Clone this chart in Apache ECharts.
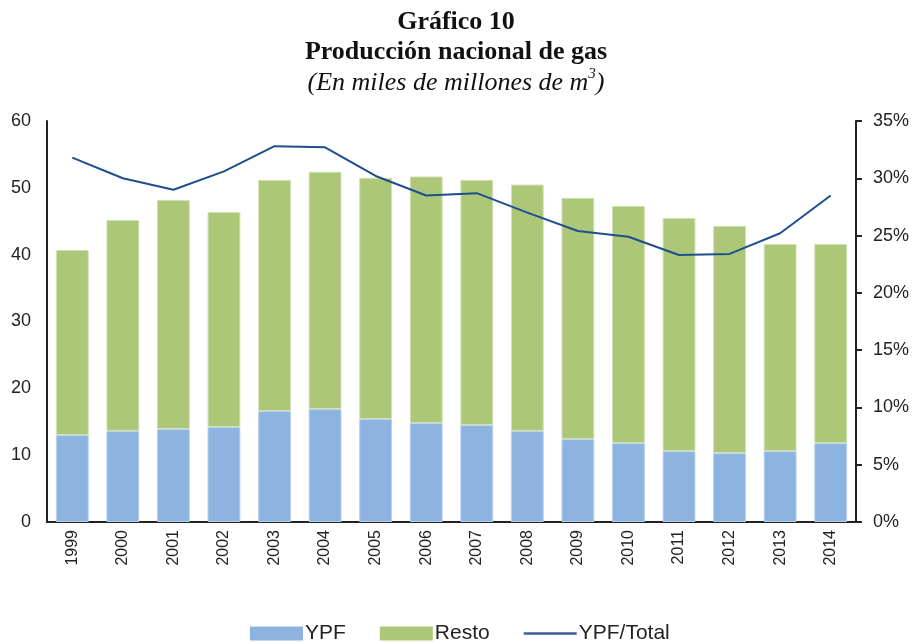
<!DOCTYPE html>
<html>
<head>
<meta charset="utf-8">
<script src="https://cdn.jsdelivr.net/npm/echarts@6/dist/echarts.min.js"></script>
<style>
  html, body { margin: 0; padding: 0; background: #fff; }
  #chart { width: 912px; height: 643px; }
</style>
</head>
<body>
<div id="chart"></div>
<script>
// años
var years = ["1999", "2000", "2001", "2002", "2003", "2004", "2005", "2006",
  "2007", "2008", "2009", "2010", "2011", "2012", "2013", "2014"];
// miles de millones de m3
var ypf = [13.0, 13.6, 13.9, 14.2, 16.6, 16.9, 15.4, 14.8,
  14.5, 13.6, 12.4, 11.8, 10.6, 10.3, 10.6, 11.8];
var resto = [27.7, 31.6, 34.3, 32.2, 34.6, 35.5, 36.1, 36.9,
  36.7, 36.9, 36.1, 35.5, 34.9, 34.0, 31.0, 29.8];
// participación YPF en %
var ypfTotal = [31.8, 30.0, 29.0, 30.6, 32.8, 32.7, 30.2, 28.5,
  28.7, 27.0, 25.4, 24.9, 23.3, 23.4, 25.2, 28.5];

var chart = echarts.init(document.getElementById("chart"));

var option = {
  animation: false,
  title: {
    left: "center",
    top: 2,
    text: "{a|Gráfico 10}\n{a|Producción nacional de gas}\n{b|(En miles de millones de m}{sup|3}{b|)}",
    textStyle: {
      rich: {
        a: {
          fontFamily: "Liberation Serif",
          fontWeight: "bold",
          fontSize: 26,
          color: "#111",
          lineHeight: 30
        },
        b: {
          fontFamily: "Liberation Serif",
          fontStyle: "italic",
          fontWeight: "normal",
          fontSize: 26,
          color: "#111",
          lineHeight: 32
        },
        sup: {
          fontFamily: "Liberation Serif",
          fontStyle: "italic",
          fontWeight: "normal",
          fontSize: 15,
          color: "#111",
          verticalAlign: "top",
          padding: [0, 0, 14, 0]
        }
      }
    }
  },
  legend: {
    bottom: -6,
    left: 245,
    itemWidth: 53,
    itemHeight: 14,
    itemGap: 34,
    textStyle: {
      fontFamily: "Liberation Sans",
      fontSize: 21,
      color: "#222",
      padding: [0, 0, 0, -3]
    },
    itemStyle: { borderWidth: 0 },
    data: [
      { name: "YPF", icon: "rect" },
      { name: "Resto", icon: "rect" },
      { name: "YPF/Total", icon: "path://M0,0 L53,0 L53,2.4 L0,2.4 Z" }
    ]
  },
  grid: {
    left: 47,
    right: 54,
    top: 121,
    bottom: 121,
    containLabel: false
  },
  xAxis: {
    type: "category",
    data: years,
    axisLine: { lineStyle: { color: "#222", width: 2 } },
    axisTick: { show: false },
    axisLabel: {
      rotate: 90,
      margin: 8,
      fontFamily: "Liberation Sans",
      fontSize: 16,
      color: "#222"
    }
  },
  yAxis: [
    {
      type: "value",
      min: 0,
      max: 60,
      interval: 10,
      axisLine: { show: true, lineStyle: { color: "#222", width: 2 } },
      axisTick: { show: false },
      splitLine: { show: false },
      axisLabel: {
        margin: 16,
        fontFamily: "Liberation Sans",
        fontSize: 18,
        color: "#222"
      }
    },
    {
      type: "value",
      min: 0,
      max: 35,
      interval: 5,
      position: "right",
      axisLine: { show: true, lineStyle: { color: "#222", width: 2 } },
      axisTick: { show: true, inside: false, length: 6, lineStyle: { color: "#222", width: 2 } },
      splitLine: { show: false },
      axisLabel: {
        margin: 17,
        formatter: "{value}%",
        fontFamily: "Liberation Sans",
        fontSize: 18,
        color: "#222"
      }
    }
  ],
  series: [
    {
      name: "YPF",
      type: "bar",
      stack: "prod",
      barWidth: "65%",
      itemStyle: { color: "#8db3e0", borderColor: "#b9d0ec", borderWidth: 1 },
      data: ypf
    },
    {
      name: "Resto",
      type: "bar",
      stack: "prod",
      barWidth: "65%",
      itemStyle: { color: "#adc778", borderColor: "#d3e2b6", borderWidth: 1 },
      data: resto
    },
    {
      name: "YPF/Total",
      type: "line",
      yAxisIndex: 1,
      symbol: "none",
      lineStyle: { color: "#1f4e8c", width: 2 },
      itemStyle: { color: "#3a6296" },
      data: ypfTotal
    }
  ]
};

chart.setOption(option);
</script>
</body>
</html>
